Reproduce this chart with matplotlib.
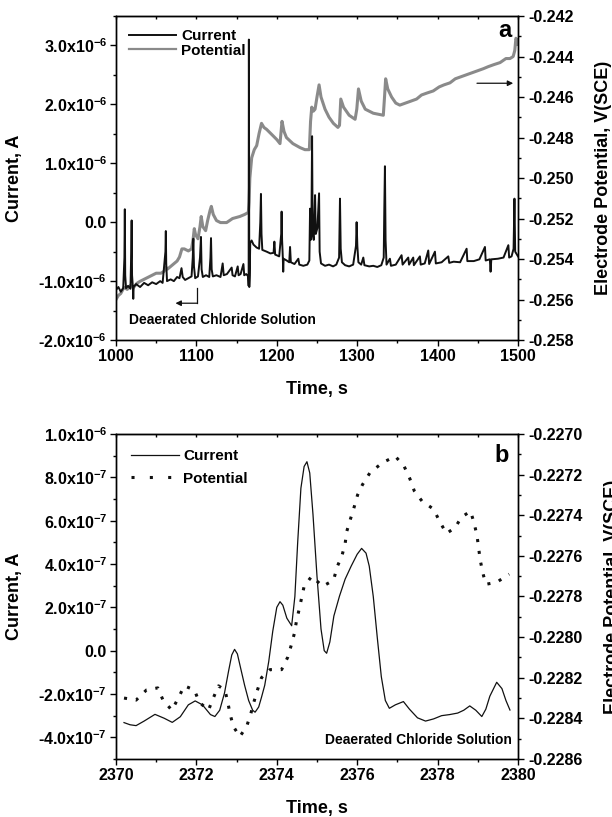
import matplotlib
matplotlib.use("Agg")
import matplotlib.pyplot as plt
from matplotlib.ticker import MultipleLocator, FuncFormatter
from matplotlib.lines import Line2D

plt.rcParams['font.family'] = ['Liberation Sans', 'DejaVu Sans']
plt.rcParams['font.weight'] = 'bold'
plt.rcParams['mathtext.fontset'] = 'custom'
plt.rcParams['mathtext.rm'] = 'Liberation Sans:bold'
plt.rcParams['mathtext.bf'] = 'Liberation Sans:bold'
plt.rcParams['mathtext.default'] = 'bf'
plt.rcParams['axes.unicode_minus'] = False

# ---------------- Panel a data ----------------
time_a_cur = [1000, 1003, 1006, 1009, 1010.5, 1011, 1011.5, 1012.5, 1015, 1018, 1019, 1019.5, 1020, 1021,
              1021.5, 1022, 1025, 1030, 1035, 1040, 1045, 1050, 1055, 1058, 1061.5, 1062, 1062.5, 1063.5,
              1068, 1072, 1076, 1079, 1081.5, 1083, 1086, 1090, 1094, 1095.5, 1096.2, 1097, 1098.5, 1102,
              1104.5, 1105.7, 1106.5, 1108, 1112, 1116, 1117.5, 1118.2, 1119, 1120.5, 1125, 1130, 1132.7,
              1134, 1138, 1143.9, 1145, 1148, 1151.4, 1152.5, 1155, 1158.5, 1159.5, 1162, 1164.5, 1165,
              1165.3, 1165.8, 1166.3, 1167, 1168.7, 1171, 1174.9, 1178, 1179.5, 1180.3, 1181, 1182, 1187.4,
              1192, 1196, 1197, 1198, 1199.8, 1203, 1205.5, 1206, 1206.6, 1207.5, 1208, 1208.5, 1212.3,
              1215.5, 1216.5, 1217.5, 1222, 1226.8, 1228, 1233, 1238, 1240.5, 1241.4, 1242.2, 1243.2,
              1243.9, 1244.6, 1246, 1247.6, 1248.5, 1250.5, 1251.5, 1252.6, 1253.3, 1255, 1260, 1265, 1270,
              1274, 1277.5, 1278.6, 1279.5, 1281, 1285, 1290, 1295, 1298.5, 1299.3, 1300.2, 1301.5, 1305,
              1307.6, 1309, 1315, 1320, 1325, 1330, 1333, 1333.7, 1334.5, 1335.3, 1336.5, 1340.7, 1342,
              1348, 1355.2, 1356.5, 1363.5, 1364.5, 1369.7, 1370.5, 1378, 1379, 1384, 1388.4, 1389.5,
              1396.7, 1397.8, 1405, 1413.3, 1414.5, 1420, 1428, 1436.1, 1437, 1445, 1452, 1458.9, 1459.8,
              1465, 1465.9, 1466.8, 1475, 1482, 1488, 1489, 1492, 1494.5, 1495.6, 1496.5, 1500]
current_a = [-1.15, -1.10, -1.18, -1.12, -0.6, 0.22, -0.9, -1.12, -1.08, -1.13, -0.5, 0.03, -0.9, -1.10,
             -1.30, -1.10, -1.05, -1.10, -1.03, -1.07, -1.02, -1.05, -1.00, -1.03, -0.5, -0.15, -0.7, -1.0,
             -0.97, -1.0, -0.93, -0.95, -0.78, -0.93, -0.98, -0.95, -0.92, -0.6, -0.28, -0.75, -0.95, -0.92,
             -0.6, -0.25, -0.8, -0.93, -0.90, -0.93, -0.6, -0.27, -0.8, -0.92, -0.90, -0.93, -0.70,
             -0.90, -0.88, -0.77, -0.90, -0.92, -0.75, -0.90, -0.88, -0.71, -0.90, -0.88, -0.92, -1.08,
             3.10, -1.1, -0.9, -0.35, -0.31, -0.38, -0.43, -0.45, 0.0, 0.48, -0.2, -0.47, -0.50,
             -0.53, -0.52, -0.33, -0.55, -0.56, -0.58, -0.2, 0.18, -0.3, -0.6, -0.84, -0.62, -0.65,
             -0.68, -0.42, -0.68, -0.71, -0.62, -0.72, -0.74, -0.72, -0.65, 0.23, -0.3, 0.2,
             1.46, -0.2, -0.3, 0.46, -0.2, -0.1, 0.2, 0.49, -0.5, -0.70, -0.74, -0.72, -0.75,
             -0.72, -0.6, 0.40, -0.45, -0.68, -0.73, -0.75, -0.72, -0.4, 0.0, -0.4, -0.68, -0.72,
             -0.6, -0.73, -0.75, -0.74, -0.76, -0.73, -0.6, 0.2, 0.95, -0.3, -0.72, -0.62, -0.74,
             -0.72, -0.56, -0.72, -0.6, -0.72, -0.6, -0.73, -0.58, -0.72, -0.70, -0.48, -0.71,
             -0.50, -0.70, -0.68, -0.58, -0.69, -0.67, -0.68, -0.45, -0.66, -0.66, -0.63, -0.42, -0.65,
             -0.63, -0.84, -0.63, -0.62, -0.60, -0.39, -0.60, -0.58, -0.45, 0.40, -0.5, -0.58]

time_a_pot = [1000, 1003, 1006, 1010, 1014, 1018, 1022, 1026, 1030, 1035, 1040, 1045, 1050, 1056, 1060,
              1062, 1064, 1070, 1076, 1079, 1082, 1085, 1090, 1094, 1096, 1097.4, 1099, 1102, 1104.5, 1106,
              1108, 1111.5, 1114, 1117, 1118.6, 1121, 1125, 1130, 1137.6, 1145, 1154, 1160, 1164.6, 1165.5,
              1166.5, 1168.8, 1172, 1175, 1178, 1181, 1184, 1187.4, 1195, 1200, 1204, 1206.5, 1209, 1212,
              1220, 1229, 1235, 1240.5, 1242, 1243.5, 1245.5, 1247.6, 1250, 1252.6, 1255, 1260, 1265,
              1270.4, 1276, 1278, 1279.6, 1283, 1290, 1297.4, 1299.5, 1301.6, 1305, 1310, 1320, 1332.5,
              1334, 1335.4, 1338, 1342.8, 1348, 1353, 1360, 1367, 1373.9, 1380, 1387, 1394.6, 1402, 1408,
              1415.4, 1422, 1429, 1436, 1443, 1450, 1457, 1463, 1470, 1477.7, 1485, 1490, 1494, 1496,
              1497.4, 1499, 1500]
potential_a = [-0.2560, -0.2558, -0.2557, -0.2554, -0.2555, -0.2553, -0.2554, -0.2552, -0.2551, -0.2550,
               -0.2549, -0.2548, -0.2547, -0.2547, -0.2546, -0.2544, -0.2545, -0.2543, -0.2541, -0.2539,
               -0.2535, -0.2535, -0.2536, -0.2535, -0.2530, -0.2525, -0.2528, -0.2530, -0.2524, -0.2519,
               -0.2524, -0.2526, -0.2521, -0.2516, -0.2514, -0.2518, -0.2521, -0.2522, -0.2522, -0.2520,
               -0.2519, -0.2518, -0.2517, -0.2512, -0.2500, -0.2490, -0.2486, -0.2484, -0.2478, -0.2473,
               -0.2475, -0.2476, -0.2479, -0.2481, -0.2483, -0.2472, -0.2477, -0.2480, -0.2483, -0.2485,
               -0.2486, -0.2486, -0.2472, -0.2465, -0.2467, -0.2466, -0.2460, -0.2454, -0.2460, -0.2466,
               -0.2470, -0.2473, -0.2475, -0.2474, -0.2461, -0.2465, -0.2469, -0.2471, -0.2466, -0.2456,
               -0.2462, -0.2466, -0.2468, -0.2469, -0.2460, -0.2451, -0.2456, -0.2460, -0.2463, -0.2464,
               -0.2463, -0.2462, -0.2461, -0.2459, -0.2458, -0.2457, -0.2455, -0.2454, -0.2453, -0.2451,
               -0.2450, -0.2449, -0.2448, -0.2447, -0.2446, -0.2445, -0.2444, -0.2443, -0.2441, -0.2441,
               -0.2440, -0.2437, -0.2431, -0.2432, -0.2434]

# ---------------- Panel b data ----------------
time_b_cur = [2370.2, 2370.35, 2370.5, 2370.7, 2370.97, 2371.2, 2371.4, 2371.6, 2371.8, 2371.97, 2372.15,
              2372.35, 2372.46, 2372.58, 2372.7, 2372.8, 2372.88, 2372.95, 2373.02, 2373.1, 2373.2, 2373.3,
              2373.4, 2373.46, 2373.55, 2373.62, 2373.7, 2373.8, 2373.9, 2374.0, 2374.08, 2374.15, 2374.25,
              2374.37, 2374.45, 2374.52, 2374.6, 2374.68, 2374.75, 2374.82, 2374.9, 2375.0, 2375.1, 2375.18,
              2375.24, 2375.32, 2375.42, 2375.56, 2375.7, 2375.85, 2376.0, 2376.11, 2376.22, 2376.3, 2376.4,
              2376.5, 2376.6, 2376.7, 2376.8, 2376.95, 2377.15, 2377.3, 2377.5, 2377.7, 2377.9, 2378.1,
              2378.3, 2378.5, 2378.65, 2378.8, 2378.95, 2379.1, 2379.2, 2379.3, 2379.47, 2379.6, 2379.7,
              2379.8]
current_b = [-3.32, -3.42, -3.46, -3.25, -2.94, -3.12, -3.31, -3.05, -2.50, -2.32, -2.50,
             -2.95, -3.04, -2.75, -1.95, -0.95, -0.20, 0.06, -0.15, -0.80, -1.60, -2.30,
             -2.75, -2.84, -2.60, -2.15, -1.60, -0.50, 0.90, 2.00, 2.26, 2.10, 1.50,
             1.15, 2.50, 5.00, 7.50, 8.50, 8.72, 8.20, 6.30, 3.44, 1.00, 0.00,
             -0.12, 0.40, 1.60, 2.52, 3.30, 3.90, 4.45, 4.72, 4.50, 3.90, 2.50,
             0.60, -1.20, -2.30, -2.66, -2.50, -2.35, -2.70, -3.10, -3.25, -3.15, -3.00,
             -2.95, -2.88, -2.75, -2.55, -2.75, -3.04, -2.70, -2.10, -1.46, -1.75, -2.30,
             -2.74]

time_b_pot = [2370.2, 2370.5, 2370.76, 2371.04, 2371.17, 2371.39, 2371.55, 2371.70, 2371.95, 2372.07,
              2372.30, 2372.42, 2372.55, 2372.71, 2372.78, 2372.84, 2372.92, 2373.08, 2373.25, 2373.35,
              2373.43, 2373.52, 2373.62, 2373.83, 2374.12, 2374.27, 2374.36, 2374.44, 2374.49, 2374.56,
              2374.68, 2374.87, 2375.14, 2375.41, 2375.51, 2375.62, 2375.70, 2375.74, 2375.83, 2375.91,
              2376.01, 2376.13, 2376.32, 2376.64, 2376.95, 2377.17, 2377.31, 2377.42, 2377.61, 2377.90,
              2378.05, 2378.22, 2378.44, 2378.59, 2378.82, 2378.91, 2378.98, 2379.02, 2379.06, 2379.12,
              2379.20, 2379.47, 2379.78]
potential_b = [-0.22830, -0.22831, -0.22826, -0.22825, -0.22831, -0.22836, -0.22830, -0.22824, -0.22826,
               -0.22832, -0.22836, -0.22830, -0.22824, -0.22826, -0.22832, -0.22838, -0.22844, -0.22849,
               -0.22844, -0.22838, -0.22832, -0.22826, -0.22820, -0.22816, -0.22816, -0.22810, -0.22804,
               -0.22798, -0.22792, -0.22786, -0.22775, -0.22770, -0.22775, -0.22772, -0.22765, -0.22760,
               -0.22754, -0.22748, -0.22742, -0.22737, -0.22730, -0.22725, -0.22719, -0.22714, -0.22711,
               -0.22716, -0.22722, -0.22728, -0.22733, -0.22737, -0.22743, -0.22749, -0.22746, -0.22741,
               -0.22738, -0.22744, -0.22750, -0.22756, -0.22762, -0.22768, -0.22774, -0.22773, -0.22769]

xticks_a = [1000, 1100, 1200, 1300, 1400, 1500]
xticks_b = [2370, 2372, 2374, 2376, 2378, 2380]

fig = plt.figure(figsize=(6.12, 8.17), dpi=100)

TICK_FS = 11.5
LABEL_FS = 13
DOTS = (0, (1.0, 2.9))


def sci_fmt(exp):
    def f(v, pos):
        m = v / 10 ** exp
        if abs(m) < 1e-9:
            return '0.0'
        sign = '-' if m < 0 else ''
        return sign + '%.1fx10$^{%d}$' % (abs(m), exp)
    return f


def sci_fmt_b(v, pos):
    if abs(v) < 1e-15:
        return '0.0'
    sign = '-' if v < 0 else ''
    if abs(v) >= 9.99e-7:
        return sign + '%.1fx10$^{-6}$' % (abs(v) / 1e-6)
    return sign + '%.1fx10$^{-7}$' % (abs(v) / 1e-7)


def style_axes(ax, ax2, xmaj, xmin_):
    ax.xaxis.set_major_locator(MultipleLocator(xmaj))
    ax.xaxis.set_minor_locator(MultipleLocator(xmin_))
    ax.tick_params(axis='both', which='major', direction='out', length=4.5, width=1.0,
                   labelsize=TICK_FS, pad=2)
    ax.tick_params(axis='both', which='minor', direction='out', length=2.5, width=1.0)
    ax.tick_params(axis='y', which='both', right=False)
    ax.tick_params(axis='x', which='both', top=False)
    ax2.tick_params(axis='y', which='major', direction='out', length=4.5, width=1.0,
                    labelsize=TICK_FS, pad=3)
    ax2.tick_params(axis='y', which='minor', direction='out', length=2.5, width=1.0)
    for a in (ax, ax2):
        for s in a.spines.values():
            s.set_linewidth(1.0)
    sec = ax.secondary_xaxis('top')
    sec.xaxis.set_major_locator(MultipleLocator(xmin_))
    sec.tick_params(axis='x', which='major', direction='in', length=2.5, width=1.0, labeltop=False)
    for lab in ax.get_xticklabels() + ax.get_yticklabels() + ax2.get_yticklabels():
        lab.set_fontweight('bold')


# ---------------- Panel a ----------------
ax1 = fig.add_axes([0.1895, 0.5838, 0.6569, 0.3966])
ax1b = ax1.twinx()
ax1.set_zorder(ax1b.get_zorder() + 1)
ax1.patch.set_visible(False)

ax1b.plot(time_a_pot, potential_a, color='#8a8a8a', lw=2.2, solid_joinstyle='round')
ax1.plot(time_a_cur, [v * 1e-6 for v in current_a], color='#111111', lw=1.4)

ax1.set_xlim(1000, 1500)
ax1.set_ylim(-2e-6, 3.5e-6)
ax1b.set_ylim(-0.258, -0.242)
ax1.yaxis.set_major_locator(MultipleLocator(1e-6))
ax1.yaxis.set_minor_locator(MultipleLocator(0.5e-6))
ax1.yaxis.set_major_formatter(FuncFormatter(sci_fmt(-6)))
ax1b.yaxis.set_major_locator(MultipleLocator(0.002))
ax1b.yaxis.set_minor_locator(MultipleLocator(0.001))
ax1b.yaxis.set_major_formatter(FuncFormatter(lambda v, p: '%.3f' % v))
ax1.set_xticks(xticks_a)
style_axes(ax1, ax1b, 100, 50)

ax1.set_xlabel('Time, s', fontsize=LABEL_FS, fontweight='bold', labelpad=12)
ax1.set_ylabel('Current, A', fontsize=LABEL_FS, fontweight='bold', labelpad=11)
ax1b.set_ylabel('Electrode Potential, V(SCE)', fontsize=LABEL_FS, fontweight='bold', labelpad=15)

h1 = [Line2D([], [], color='#111111', lw=1.4), Line2D([], [], color='#8a8a8a', lw=1.6)]
ax1.legend(h1, ['Current', 'Potential'], loc='upper left', bbox_to_anchor=(0.0, 1.0), frameon=False,
           prop={'size': 11, 'weight': 'bold'}, handlelength=3.1, handletextpad=0.3,
           labelspacing=0.05, borderaxespad=0.45)
ax1.text(0.983, 0.935, 'a', transform=ax1.transAxes, ha='right', va='baseline',
         fontsize=17, fontweight='bold')
ax1.text(0.032, 0.062, 'Deaerated Chloride Solution', transform=ax1.transAxes, ha='left',
         va='center', fontsize=10, fontweight='bold')
# arrows
ax1.plot([1100.7, 1100.7], [-1.12e-6, -1.375e-6], color='#111111', lw=0.9)
ax1.annotate('', xy=(1074, -1.375e-6), xytext=(1101.1, -1.375e-6),
             arrowprops=dict(arrowstyle='-|>', color='#111111', lw=0.9, mutation_scale=8,
                             shrinkA=0, shrinkB=0))
ax1b.annotate('', xy=(1494, -0.24532), xytext=(1449, -0.24532),
              arrowprops=dict(arrowstyle='-|>', color='#111111', lw=0.9, mutation_scale=8,
                              shrinkA=0, shrinkB=0))

# ---------------- Panel b ----------------
ax2 = fig.add_axes([0.1895, 0.0710, 0.6569, 0.3978])
ax2b = ax2.twinx()
ax2.set_zorder(ax2b.get_zorder() + 1)
ax2.patch.set_visible(False)

ax2b.plot(time_b_pot, potential_b, color='#111111', lw=2.2, linestyle=DOTS, dash_capstyle='butt')
ax2.plot(time_b_cur, [v * 1e-7 for v in current_b], color='#111111', lw=0.9,
         solid_joinstyle='round')

ax2.set_xlim(2370, 2380)
ax2.set_ylim(-5e-7, 1e-6)
ax2b.set_ylim(-0.2286, -0.2270)
ax2.yaxis.set_major_locator(MultipleLocator(2e-7))
ax2.yaxis.set_minor_locator(MultipleLocator(1e-7))
ax2.yaxis.set_major_formatter(FuncFormatter(sci_fmt_b))
ax2b.yaxis.set_major_locator(MultipleLocator(0.0002))
ax2b.yaxis.set_minor_locator(MultipleLocator(0.0001))
ax2b.yaxis.set_major_formatter(FuncFormatter(lambda v, p: '%.4f' % v))
ax2.set_xticks(xticks_b)
style_axes(ax2, ax2b, 2, 1)

ax2.set_xlabel('Time, s', fontsize=LABEL_FS, fontweight='bold', labelpad=12)
ax2.set_ylabel('Current, A', fontsize=LABEL_FS, fontweight='bold', labelpad=11)
ax2b.set_ylabel('Electrode Potential, V(SCE)', fontsize=LABEL_FS, fontweight='bold', labelpad=15)

h2 = [Line2D([], [], color='#111111', lw=0.9),
      Line2D([], [], color='#111111', lw=2.2, linestyle=(0, (1.0, 5.0)), dash_capstyle='butt')]
ax2.legend(h2, ['Current', 'Potential'], loc='upper left', bbox_to_anchor=(0.0, 1.0), frameon=False,
           prop={'size': 11, 'weight': 'bold'}, handlelength=3.1, handletextpad=0.3,
           labelspacing=0.55, borderaxespad=0.6)
ax2.text(0.978, 0.915, 'b', transform=ax2.transAxes, ha='right', va='baseline',
         fontsize=17, fontweight='bold')
ax2.text(0.984, 0.058, 'Deaerated Chloride Solution', transform=ax2.transAxes, ha='right',
         va='center', fontsize=10, fontweight='bold')

fig.savefig('out.png', dpi=100)
